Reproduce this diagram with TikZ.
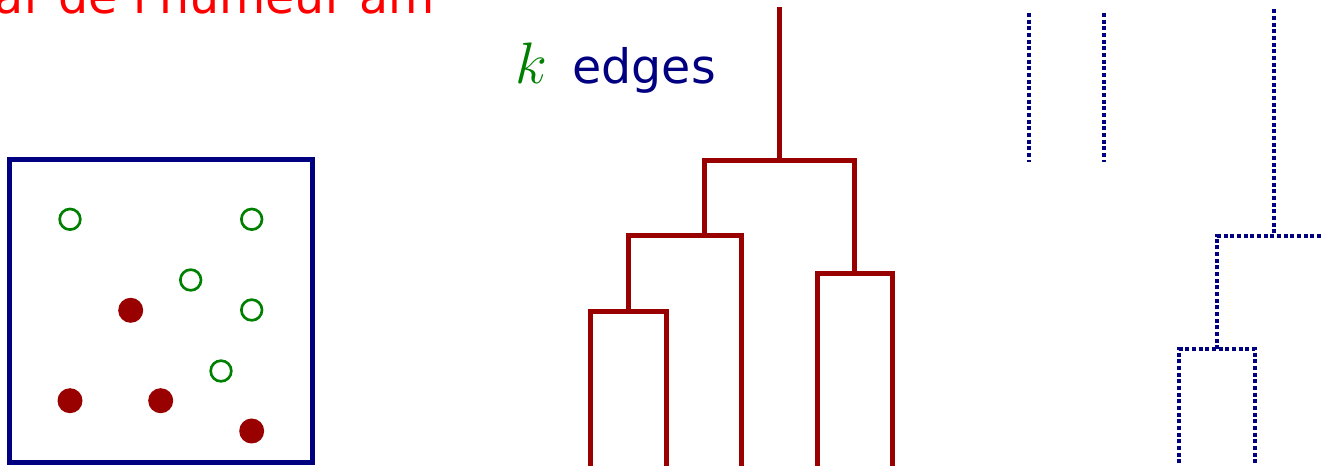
\RequirePackage{fix-cm}
\documentclass[tikz,border=0pt]{standalone}
\usepackage{fontspec}
\newfontfamily\dv{DejaVu Sans}
\definecolor{navyc}{RGB}{0,0,128}
\definecolor{dredc}{RGB}{153,0,0}
\definecolor{greenc}{RGB}{0,128,0}
\definecolor{redc}{RGB}{255,0,0}
\tikzset{
  dend/.style={draw=dredc, line width=3.75pt, line join=miter, line cap=butt},
  dotl/.style={draw=navyc, line width=3pt, dash pattern=on 3pt off 2pt, line cap=butt},
  gpt/.style={circle, draw=greenc, line width=2pt, minimum size=15.5pt, inner sep=0pt},
  rpt/.style={circle, fill=dredc, minimum size=18.75pt, inner sep=0pt},
  frame/.style={draw=navyc, line width=3.75pt},
  txt/.style={anchor=base west, inner sep=0pt, outer sep=0pt}
}
\begin{document}
\begin{tikzpicture}[x=0.75pt,y=-0.75pt]
\useasboundingbox (0,0) rectangle (1321,466);
\clip (0,0) rectangle (1321,466);
% clipped red title
\node[txt, text=redc, font=\dv\fontsize{35.6}{40}\selectfont] (title) at (-5,13.5) {ar de l'humeur am};
% k edges label
\node[txt, text=greenc, font=\fontsize{43.9}{50}\selectfont] (k) at (515,84) {$k$};
\node[txt, text=navyc, font=\dv\fontsize{35.6}{40}\selectfont] (edges) at (572.5,84) {edges};
% box with points
\coordinate (bnw) at (9.5,160);
\coordinate (bse) at (312.5,462.5);
\draw[frame] (bnw) rectangle (bse);
\node[gpt] (g1) at (70,219.3) {};
\node[gpt] (g2) at (251.7,219.3) {};
\node[gpt] (g3) at (190.7,280) {};
\node[gpt] (g4) at (251.7,310) {};
\node[gpt] (g5) at (221,371) {};
\node[rpt] (r1) at (130.7,310.3) {};
\node[rpt] (r2) at (70,400.7) {};
\node[rpt] (r3) at (160.7,400.7) {};
\node[rpt] (r4) at (251.7,431) {};
% dendrogram
\coordinate (l1) at (590,470);
\coordinate (l2) at (666,470);
\coordinate (l3) at (741.7,470);
\coordinate (l4) at (817,470);
\coordinate (l5) at (892.7,470);
\draw[dend] (l1) -- (590,311.7) -- (666,311.7) -- (l2);
\draw[dend] (628.3,311.7) -- (628.3,236) -- (741.7,236) -- (l3);
\draw[dend] (l4) -- (817,273.7) -- (892.7,273.7) -- (l5);
\draw[dend] (854.7,273.7) -- (854.7,160.7) -- (704,160.7) -- (704,236);
\draw[dend] (779.3,160.7) -- (779.3,6.7);
% dotted dendrogram
\draw[dotl] (1028.7,13) -- (1028.7,162);
\draw[dotl] (1104,13) -- (1104,162);
\draw[dotl] (1274,9.3) -- (1274,235.7);
\draw[dotl] (1217.3,349.3) -- (1217.3,235.7) -- (1330.7,235.7) -- (1330.7,470);
\draw[dotl] (1179.3,470) -- (1179.3,349.3) -- (1255.3,349.3) -- (1255.3,470);
\end{tikzpicture}
\end{document}
